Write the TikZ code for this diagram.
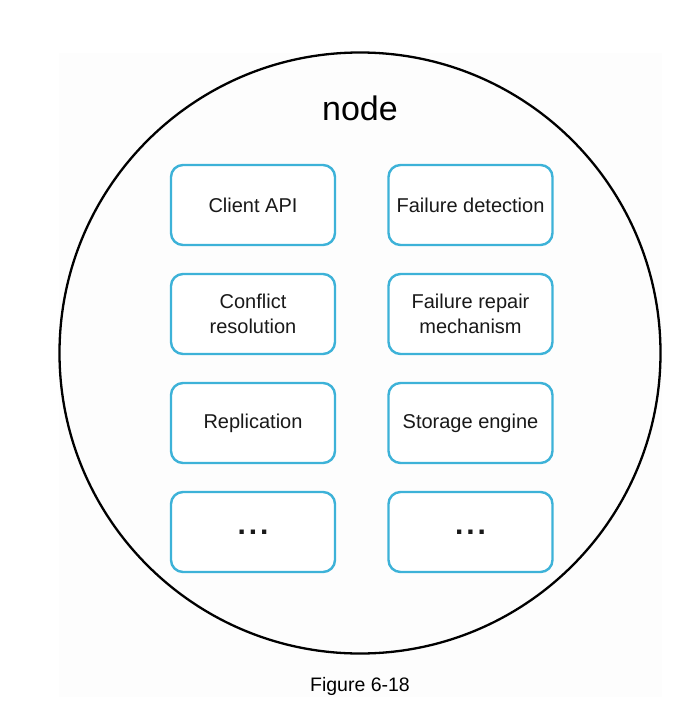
\documentclass[tikz,border=0pt]{standalone}
\usepackage{fontspec}
\setmainfont{Liberation Sans}
\definecolor{boxblue}{HTML}{3DB2D8}
\definecolor{faint}{HTML}{FDFDFD}
\begin{document}
\begin{tikzpicture}[x=1pt,y=-1pt,
  comp/.style={draw=boxblue, line width=2.4pt, rounded corners=12pt, fill=white,
    minimum width=164pt, minimum height=80pt, inner sep=0pt, align=center,
    font=\fontsize{20}{25}\selectfont, text=black!90},
  dotsstyle/.style={font=\fontsize{30}{30}\selectfont\bfseries}]
\useasboundingbox (0,0) rectangle (698,704);
\fill[white] (0,0) rectangle (698,704);
\fill[faint] (59,53) rectangle (662,697);
\node[draw=black, line width=2.3pt, circle, minimum size=601pt, inner sep=0pt] (nodecircle) at (360,353) {};
\node[font=\fontsize{34}{40}\selectfont] (title) at (360,108) {node};
\node[comp] (client) at (253,205) {Client API};
\node[comp] (failure) at (470.5,205) {Failure detection};
\node[comp] (conflict) at (253,314) {Conflict\\resolution};
\node[comp] (repair) at (470.5,314) {Failure repair\\mechanism};
\node[comp] (replication) at (253,423) {\raisebox{-2pt}{Replication}};
\node[comp] (storage) at (470.5,423) {\raisebox{-2pt}{Storage engine}};
\node[comp] (dotsl) at (253,532) {\raisebox{-1pt}{\fontsize{30}{30}\selectfont\bfseries .\hspace{3pt}.\hspace{3pt}.}};
\node[comp] (dotsr) at (470.5,532) {\raisebox{-1pt}{\fontsize{30}{30}\selectfont\bfseries .\hspace{3pt}.\hspace{3pt}.}};
\node[font=\fontsize{19.5}{24}\selectfont] (caption) at (360,686) {Figure 6-18};
\end{tikzpicture}
\end{document}
